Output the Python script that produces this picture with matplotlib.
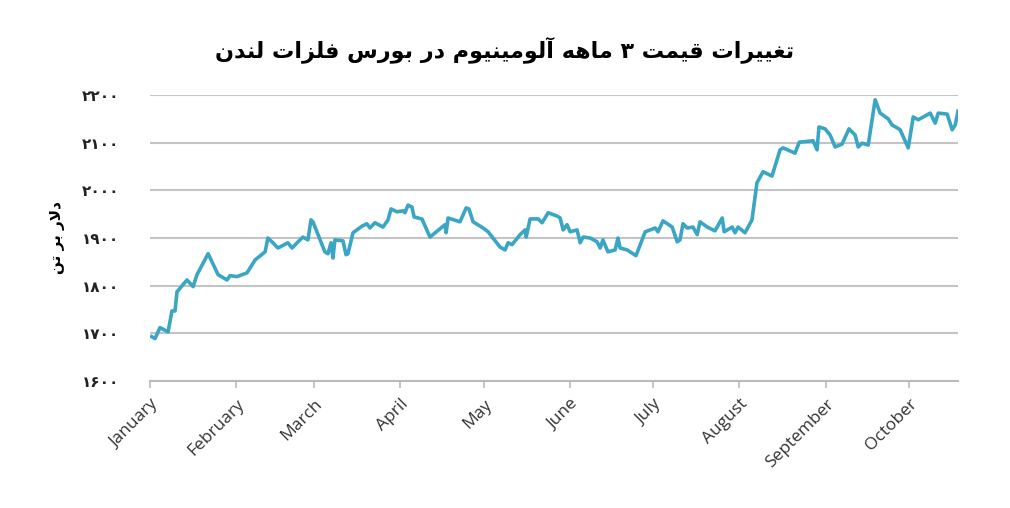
import matplotlib
matplotlib.use("Agg")
from matplotlib import pyplot as plt

# روز از ابتدای سال و قیمت (دلار بر تن)
days = [0.6, 1.8, 3.6, 6.5, 7.9, 9, 9.7, 13.3, 15.5, 16.9, 20.9, 24.5, 27.7, 28.8, 31.3, 34.9,
        37.8, 41.4, 42.4, 44.2, 46, 49.6, 51.1, 52.9, 55, 56.8, 57.9, 58.6, 62.9, 64, 65.1, 65.8,
        66.5, 69.4, 70.5, 71.2, 73, 76.3, 78, 79.1, 80.9, 83.8, 85.6, 86.7, 88.8, 91, 91.7, 92.8,
        94.2, 95, 97.8, 100.7, 106.1, 106.5, 107.2, 111.5, 113.7, 114.7, 116.2, 119.8, 121.6,
        125.9, 127.7, 128.8, 130.2, 133.1, 134.9, 135.3, 136.7, 139.6, 141, 143.2, 146.4,
        147.5, 148.6, 150, 151.1, 153.6, 154.7, 155.8, 158.3, 160.8, 161.9, 162.9, 164.7, 167.3,
        168.3, 169.1, 171.6, 174.8, 178.1, 181.7, 182.7, 184.5, 187.8, 189.6, 190.6, 191.7,
        193.2, 195.3, 196.8, 197.8, 200.4, 203.2, 205.8, 206.5, 209.4, 210.4, 211.5, 214,
        216.5, 218.3, 220.5, 223.7, 226.6, 227.7, 232, 233.5, 238.5, 239.9, 240.6, 242.8,
        244.6, 246.4, 248.9, 251.4, 253.6, 254.7, 256.1, 258.3, 260.8, 262.6, 265.5, 266.9,
        268.7, 269.8, 272.7, 274.5, 276.3, 280.6, 282.4, 283.5, 286.7, 288.5, 289.6, 290.6]
prices = [1693, 1689, 1712, 1703, 1747, 1747, 1787, 1812, 1798, 1823, 1867, 1823, 1812, 1821,
          1819, 1827, 1854, 1871, 1900, 1890, 1879, 1890, 1879, 1890, 1902, 1896, 1938, 1934,
          1871, 1867, 1890, 1858, 1896, 1894, 1865, 1867, 1911, 1925, 1930, 1921, 1932, 1923,
          1938, 1961, 1955, 1957, 1953, 1969, 1965, 1944, 1940, 1902, 1928, 1911, 1942, 1934,
          1963, 1961, 1934, 1921, 1913, 1881, 1875, 1890, 1886, 1907, 1917, 1902, 1940, 1940,
          1932, 1953, 1946,
          1942, 1917, 1928, 1913, 1917, 1890, 1902, 1900, 1892, 1879, 1896, 1871, 1875, 1900,
          1879, 1875, 1863, 1913, 1921, 1913, 1936, 1923, 1892, 1896, 1930, 1921, 1923, 1907,
          1934, 1923, 1915, 1942, 1913, 1923, 1911, 1923, 1911, 1938, 2016, 2039, 2030, 2085,
          2089, 2078, 2101, 2104, 2085, 2133, 2129, 2116, 2091, 2097, 2129, 2116, 2091, 2099,
          2095, 2190, 2162, 2150, 2137, 2131, 2127, 2089, 2154, 2148, 2162, 2141, 2162, 2160,
          2127, 2137, 2166]

month_days = [0, 31, 59, 90, 120, 151, 181, 212, 243, 273]
month_names = ["January", "February", "March", "April", "May", "June", "July",
               "August", "September", "October"]
y_ticks = [1600, 1700, 1800, 1900, 2000, 2100, 2200]
y_tick_labels = ["۱۶۰۰", "۱۷۰۰", "۱۸۰۰", "۱۹۰۰", "۲۰۰۰", "۲۱۰۰", "۲۲۰۰"]

title = "تغییرات قیمت ۳ ماهه آلومینیوم در بورس فلزات لندن"
ylab = "دلار بر تن"

# شکل‌دهی ساده حروف فارسی (matplotlib خودش انجام نمی‌دهد)
forms = {
    'ا': (0xFE8D, 0xFE8E), 'آ': (0xFE81, 0xFE82), 'د': (0xFEA9, 0xFEAA),
    'ر': (0xFEAD, 0xFEAE), 'ز': (0xFEAF, 0xFEB0), 'و': (0xFEED, 0xFEEE),
    'ب': (0xFE8F, 0xFE90, 0xFE91, 0xFE92), 'ت': (0xFE95, 0xFE96, 0xFE97, 0xFE98),
    'س': (0xFEB1, 0xFEB2, 0xFEB3, 0xFEB4), 'غ': (0xFECD, 0xFECE, 0xFECF, 0xFED0),
    'ف': (0xFED1, 0xFED2, 0xFED3, 0xFED4), 'ق': (0xFED5, 0xFED6, 0xFED7, 0xFED8),
    'ل': (0xFEDD, 0xFEDE, 0xFEDF, 0xFEE0), 'م': (0xFEE1, 0xFEE2, 0xFEE3, 0xFEE4),
    'ن': (0xFEE5, 0xFEE6, 0xFEE7, 0xFEE8), 'ه': (0xFEE9, 0xFEEA, 0xFEEB, 0xFEEC),
    'ی': (0xFBFC, 0xFBFD, 0xFBFE, 0xFBFF),
}


def shape(text):
    text = text.replace('لا', '\uE000')
    out = []
    for i, c in enumerate(text):
        prev = text[i - 1] if i > 0 else ' '
        nxt = text[i + 1] if i + 1 < len(text) else ' '
        joins_prev = prev in forms and len(forms[prev]) == 4
        if c == '\uE000':
            out.append(chr(0xFEFC if joins_prev else 0xFEFB))
            continue
        if c not in forms:
            out.append(c)
            continue
        f = forms[c]
        joins_next = len(f) == 4 and (nxt in forms or nxt == '\uE000')
        if joins_prev and joins_next:
            out.append(chr(f[3]))
        elif joins_prev:
            out.append(chr(f[1]))
        elif joins_next:
            out.append(chr(f[2]))
        else:
            out.append(chr(f[0]))
    return ''.join(out)[::-1]


plt.rcParams['font.family'] = ['DejaVu Sans']
fig = plt.figure(figsize=(10.1, 5.08), dpi=100)
ax = fig.add_axes([150 / 1010, 1 - 381 / 508, 808 / 1010, 286 / 508])

ax.plot(days, prices, color='#3AA6C4', lw=2.6)
ax.set_xlim(0, 290.6)
ax.set_ylim(1600, 2200)
ax.set_yticks(y_ticks)
ax.set_yticklabels(y_tick_labels, fontsize=11, fontweight='bold', color='#222222')
ax.set_xticks(month_days)
ax.set_xticklabels(month_names, rotation=45, ha='right', rotation_mode='anchor',
                   fontsize=12.5, color='#333333', family='Open Sans')
ax.tick_params(axis='y', length=0, pad=22)
ax.tick_params(axis='x', length=5, color='#bbbbbb', width=1.2, pad=6)
ax.grid(axis='y', color='#c4c4c4', lw=1.5)
ax.set_axisbelow(True)
for s in ['top', 'right', 'left']:
    ax.spines[s].set_visible(False)
ax.spines['bottom'].set_color('#bbbbbb')
ax.spines['bottom'].set_linewidth(1.5)

ax.set_ylabel(shape(ylab), fontsize=11, fontweight='bold', labelpad=12)
fig.text(0.5, 1 - 50 / 508, shape(title), ha='center', va='center',
         fontsize=16, fontweight='bold')

fig.savefig('out.png', dpi=100)
